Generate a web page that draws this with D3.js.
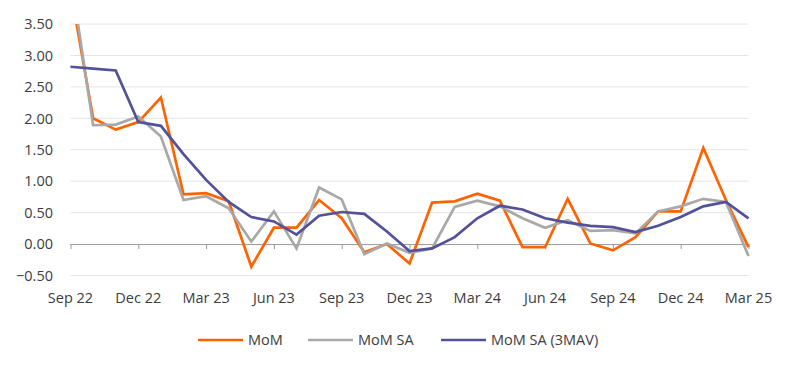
<!DOCTYPE html>
<html>
<head>
<meta charset="utf-8">
<script src="https://cdn.jsdelivr.net/npm/d3@7"></script>
<style>
  body { margin: 0; background: #fff; }
  svg { display: block; font-family: "Open Sans", sans-serif; }
</style>
</head>
<body>
<script>
// monthly, Sep 22 .. Mar 25
const months = ["Sep 22","Oct 22","Nov 22","Dec 22","Jan 23","Feb 23","Mar 23","Apr 23","May 23","Jun 23",
  "Jul 23","Aug 23","Sep 23","Oct 23","Nov 23","Dec 23","Jan 24","Feb 24","Mar 24","Apr 24",
  "May 24","Jun 24","Jul 24","Aug 24","Sep 24","Oct 24","Nov 24","Dec 24","Jan 25","Feb 25","Mar 25"];
// first values run above the axis max and get clipped
const mom = [4.05, 2.0, 1.82, 1.94, 2.33, 0.79, 0.81, 0.68, -0.36, 0.26,
  0.26, 0.70, 0.41, -0.13, 0.0, -0.31, 0.66, 0.68, 0.80, 0.69,
  -0.05, -0.05, 0.72, 0.01, -0.10, 0.11, 0.52, 0.52, 1.53, 0.70, -0.05];
const momSA = [4.3, 1.89, 1.90, 2.03, 1.71, 0.70, 0.76, 0.57, 0.04, 0.52,
  -0.07, 0.90, 0.71, -0.16, 0.01, -0.14, -0.07, 0.59, 0.69, 0.60,
  0.41, 0.26, 0.38, 0.21, 0.22, 0.17, 0.52, 0.60, 0.72, 0.67, -0.19];
const mom3mav = [2.82, 2.79, 2.76, 1.94, 1.88, 1.43, 1.02, 0.67, 0.43, 0.36,
  0.15, 0.45, 0.51, 0.48, 0.20, -0.11, -0.07, 0.11, 0.41, 0.61,
  0.55, 0.41, 0.34, 0.29, 0.27, 0.19, 0.29, 0.43, 0.60, 0.67, 0.41];
const yTicks = [-0.5, 0, 0.5, 1, 1.5, 2, 2.5, 3, 3.5];

const series = [
  { name: "MoM", values: mom, color: "#ff6200" },
  { name: "MoM SA", values: momSA, color: "#a8a8a8" },
  { name: "MoM SA (3MAV)", values: mom3mav, color: "#525199" }
];

const width = 800, height = 372;
const x = d3.scalePoint().domain(months).range([70.5, 748.5]);
const y = d3.scaleLinear().domain([-0.5, 3.5]).range([275.5, 24]);

const svg = d3.select("body").append("svg")
    .attr("width", width)
    .attr("height", height);

svg.append("clipPath")
    .attr("id", "plot")
  .append("rect")
    .attr("x", 0).attr("y", y(3.5))
    .attr("width", width).attr("height", 300);

// gridlines
svg.append("g")
  .selectAll("line")
  .data(yTicks.filter(d => d !== 0))
  .join("line")
    .attr("x1", 70.5).attr("x2", 748.5)
    .attr("y1", d => y(d)).attr("y2", d => y(d))
    .attr("stroke", "#e4e4e4")
    .attr("stroke-width", 1);

// y labels
svg.append("g")
  .attr("font-size", 14.5)
  .attr("fill", "#3c3c3c")
  .attr("text-anchor", "end")
  .selectAll("text")
  .data(yTicks)
  .join("text")
    .attr("x", 53)
    .attr("y", d => y(d))
    .attr("dy", "0.36em")
    .text(d => d3.format(".2f")(d));

// x axis at zero
const xAxis = d3.axisBottom(x)
    .tickValues(months.filter((d, i) => i % 3 === 0))
    .tickSize(5)
    .tickSizeOuter(0)
    .tickFormat("");
const gx = svg.append("g")
    .attr("transform", `translate(0,${y(0)})`)
    .call(xAxis);
gx.select(".domain").attr("stroke", "#9a9a9a").attr("d", `M70.5,0.5H748.5`);
gx.selectAll(".tick line").attr("stroke", "#9a9a9a");

// x labels below plot
svg.append("g")
  .attr("font-size", 14.5)
  .attr("fill", "#3c3c3c")
  .attr("text-anchor", "middle")
  .selectAll("text")
  .data(months.filter((d, i) => i % 3 === 0))
  .join("text")
    .attr("x", d => x(d))
    .attr("y", 303)
    .text(d => d);

// lines
const line = d3.line()
    .x((d, i) => x(months[i]))
    .y(d => y(d));

svg.append("g")
    .attr("clip-path", "url(#plot)")
  .selectAll("path")
  .data(series)
  .join("path")
    .attr("fill", "none")
    .attr("stroke", d => d.color)
    .attr("stroke-width", 2.7)
    .attr("stroke-linejoin", "miter")
    .attr("d", d => line(d.values));

// legend
const legendX = [198, 308, 441];
const legend = svg.append("g")
  .selectAll("g")
  .data(series)
  .join("g")
    .attr("transform", (d, i) => `translate(${legendX[i]},340)`);
legend.append("line")
    .attr("x1", 0).attr("x2", 45)
    .attr("stroke", d => d.color)
    .attr("stroke-width", 2.7);
legend.append("text")
    .attr("x", 50)
    .attr("dy", "0.36em")
    .attr("font-size", 14.5)
    .attr("fill", "#3c3c3c")
    .text(d => d.name);
</script>
</body>
</html>
